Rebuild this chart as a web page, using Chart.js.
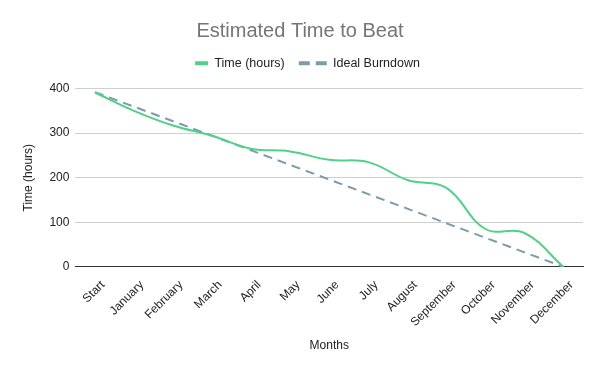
<!DOCTYPE html>
<html>
<head>
<meta charset="utf-8">
<script src="https://cdn.jsdelivr.net/npm/chart.js@4/dist/chart.umd.min.js"></script>
<style>
  html, body { margin: 0; padding: 0; background: #fff; }
  #wrap { width: 600px; height: 371px; }
</style>
</head>
<body>
<div id="wrap"><canvas id="chart"></canvas></div>
<script>
const months = ['Start', 'January', 'February', 'March', 'April', 'May', 'June',
  'July', 'August', 'September', 'October', 'November', 'December'];
const timeHours = [391, 350, 317, 294, 265, 259, 240, 235, 195, 177, 85, 76, 0];
const idealBurndown = [392, 359.3, 326.7, 294, 261.3, 228.7, 196, 163.3, 130.7, 98, 65.3, 32.7, 0];
const yTicks = [0, 100, 200, 300, 400];

const font = "'Liberation Sans', Arial, sans-serif";

// push the plot area down a little below the legend
const legendGap = {
  id: 'legendGap',
  beforeInit(chart) {
    const fit = chart.legend.fit;
    chart.legend.fit = function () {
      fit.bind(chart.legend)();
      this.height += 9;
    };
  }
};

new Chart(document.getElementById('chart'), {
  type: 'line',
  data: {
    labels: months,
    datasets: [{
      label: 'Time (hours)',
      data: timeHours,
      borderColor: '#4fd287',
      backgroundColor: '#4fd287',
      borderWidth: 2,
      pointRadius: 0,
      tension: 0.4
    }, {
      label: 'Ideal Burndown',
      data: idealBurndown,
      borderColor: '#7b9cab',
      backgroundColor: '#7b9cab',
      borderWidth: 2,
      borderDash: [9, 6],
      pointRadius: 0,
      tension: 0
    }]
  },
  plugins: [legendGap],
  options: {
    responsive: true,
    maintainAspectRatio: false,
    animation: false,
    layout: { padding: { top: 15, left: 17, right: 17, bottom: 14 } },
    plugins: {
      title: {
        display: true,
        text: 'Estimated Time to Beat',
        color: '#757575',
        font: { family: font, size: 20, weight: 'normal' },
        padding: { top: 4, bottom: 0 }
      },
      legend: {
        labels: {
          usePointStyle: true,
          pointStyle: 'line',
          pointStyleWidth: 28,
          boxHeight: 12,
          color: '#222',
          padding: 14,
          font: { family: font, size: 12.5 },
          generateLabels(chart) {
            const items = Chart.defaults.plugins.legend.labels.generateLabels(chart);
            items.forEach(it => { it.lineWidth = 4; it.pointStyle = 'line'; });
            // solid series shows only a short stub next to its text
            items[0].lineDash = [0, 15, 13, 0];
            items[1].lineDash = [11, 6];
            return items;
          }
        }
      },
      tooltip: { enabled: false }
    },
    scales: {
      x: {
        offset: true,
        grid: { display: false },
        border: { display: true, color: '#333', width: 1 },
        ticks: {
          color: '#222',
          minRotation: 45,
          maxRotation: 45,
          labelOffset: 8,
          font: { family: font, size: 12 }
        },
        title: {
          display: true,
          text: 'Months',
          color: '#222',
          font: { family: font, size: 12 },
          padding: { top: 6 }
        }
      },
      y: {
        min: 0,
        max: 400,
        afterBuildTicks(axis) { axis.ticks = yTicks.map(v => ({ value: v })); },
        grid: { color: '#cfcfcf', drawTicks: false },
        border: { display: false },
        ticks: {
          color: '#222',
          padding: 6,
          font: { family: font, size: 12 }
        },
        title: {
          display: true,
          text: 'Time (hours)',
          color: '#222',
          font: { family: font, size: 12 },
          padding: { bottom: 8 }
        }
      }
    }
  }
});
</script>
</body>
</html>
